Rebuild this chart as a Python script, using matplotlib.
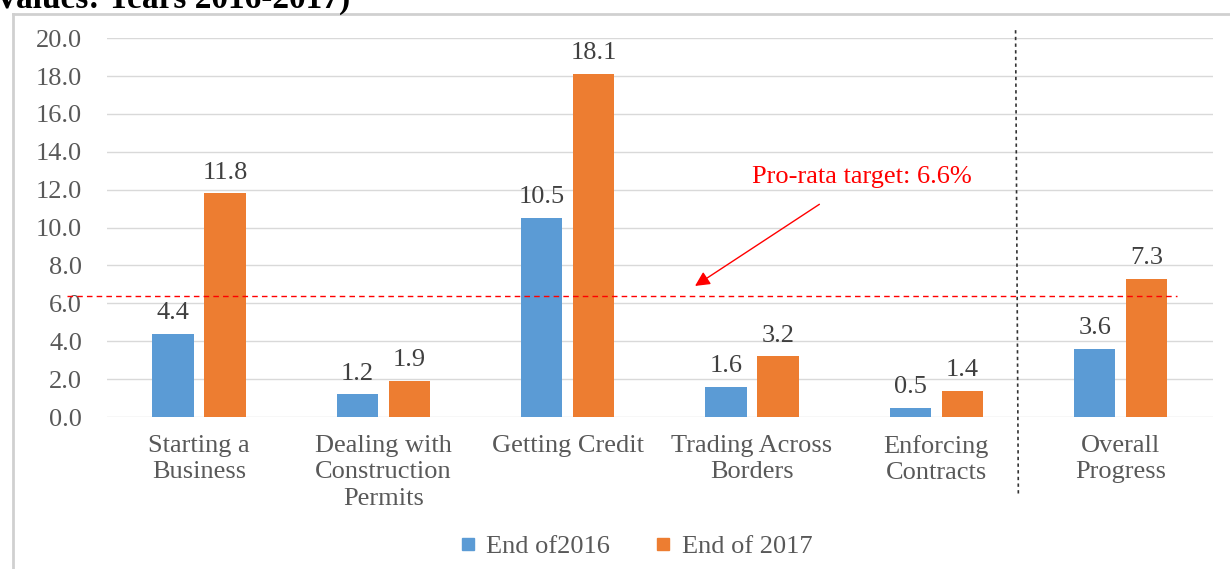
import matplotlib
matplotlib.use("Agg")
import matplotlib.pyplot as plt
import matplotlib.transforms as mtransforms
from matplotlib.lines import Line2D
import numpy as np

# ------------------------ Data ------------------------
categories = ["Starting a\nBusiness", "Dealing with\nConstruction\nPermits", "Getting Credit",
              "Trading Across\nBorders", "Enforcing\nContracts", "Overall\nProgress"]
end_2016 = [4.4, 1.2, 10.5, 1.6, 0.5, 3.6]
end_2017 = [11.8, 1.9, 18.1, 3.2, 1.4, 7.3]
series_names = ["End of2016", "End of 2017"]
y_ticks = [0, 2, 4, 6, 8, 10, 12, 14, 16, 18, 20]
target_line = 6.4
target_label = "Pro-rata target: 6.6%"
title_text = "Values: Years 2016-2017)"

BLUE = "#5B9BD5"
ORANGE = "#ED7D31"
TEXT = "#595959"
SERIF = ["Liberation Serif", "DejaVu Serif"]
FS = 19

plt.rcParams['font.family'] = SERIF

fig = plt.figure(figsize=(12.3, 5.69), dpi=100)
ax = fig.add_axes([0.087, 0.267, 0.899, 0.666])

x = np.arange(len(categories))
w = 0.225
off = 0.141
b1 = ax.bar(x - off, end_2016, w, color=BLUE, label=series_names[0], zorder=3)
b2 = ax.bar(x + off, end_2017, w, color=ORANGE, label=series_names[1], zorder=3)

for bars, vals in ((b1, end_2016), (b2, end_2017)):
    for r, v in zip(bars, vals):
        ax.annotate(f"{v:.1f}", (r.get_x() + r.get_width() / 2, v), xytext=(0, 7),
                    textcoords="offset points", ha="center", va="bottom",
                    fontsize=FS, color="#404040")

ax.set_xlim(-0.5, len(categories) - 0.5)
ax.set_ylim(0, 20)
ax.set_yticks(y_ticks)
ax.set_yticklabels([f"{t:.1f}" for t in y_ticks])
ax.set_xticks(x)
ax.set_xticklabels(categories, linespacing=1.25)
ax.tick_params(axis="y", length=0, pad=18, labelsize=FS, labelcolor=TEXT)
ax.tick_params(axis="x", length=0, pad=13, labelsize=FS, labelcolor=TEXT)
ax.grid(axis="y", color="#d9d9d9", lw=1, zorder=0)
for s in ax.spines.values():
    s.set_visible(False)

# target line (runs a bit past the axes on both sides)
ax.plot([-0.717, 5.306], [target_line, target_line], color="red", lw=1,
        linestyle=(0, (4, 3)), clip_on=False, zorder=4)

# separator before overall progress
trans = mtransforms.blended_transform_factory(ax.transData, ax.transAxes)
ax.plot([4.43, 4.445], [1.021, -0.206], transform=trans, color="#333333", lw=1.2,
        linestyle=(0, (2, 2)), clip_on=False, zorder=4)

ax.annotate("", xy=(2.678, 6.84), xytext=(3.378, 11.31),
            arrowprops=dict(arrowstyle="-|>", color="red", lw=1, mutation_scale=22))
ax.text(3.597, 12.66, target_label, color="red", fontsize=FS, ha="center", va="center")

# legend
handles = [Line2D([], [], marker="s", ls="", color=BLUE, markersize=9),
           Line2D([], [], marker="s", ls="", color=ORANGE, markersize=9)]
fig.legend(handles, series_names, loc="center", bbox_to_anchor=(0.515, 0.04), ncol=2,
           frameon=False, fontsize=FS, labelcolor=TEXT, handletextpad=0.2,
           handlelength=1.0, columnspacing=1.5)

# outer border + cut-off title
fig.add_artist(Line2D([13 / 1230, 13 / 1230], [0, 1 - 14 / 569], color="#d0d0d0", lw=2))
fig.add_artist(Line2D([13 / 1230, 1], [1 - 14 / 569, 1 - 14 / 569], color="#d0d0d0", lw=2))
fig.text(-0.004, 1 - 8 / 569, title_text, fontsize=24, fontweight="bold", ha="left",
         va="baseline", color="black")

fig.savefig("out.png", dpi=100)
